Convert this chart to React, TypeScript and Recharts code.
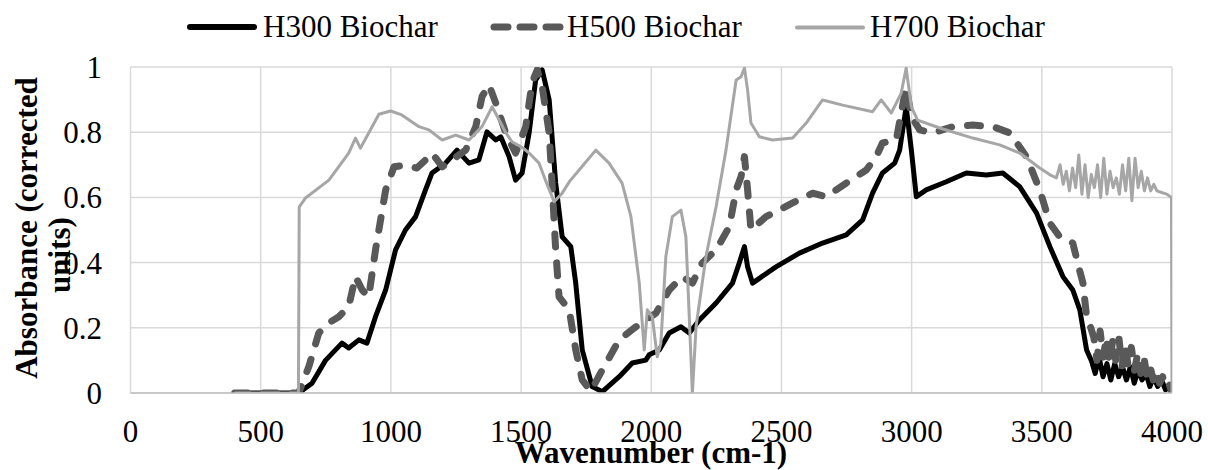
import { LineChart, Line, XAxis, YAxis, CartesianGrid, Legend, Label } from 'recharts';

const FONT = '"Liberation Serif", "Times New Roman", serif';

const xTicks = [0, 500, 1000, 1500, 2000, 2500, 3000, 3500, 4000];
const yTicks = [0, 0.2, 0.4, 0.6, 0.8, 1];
const seriesNames = ['H300 Biochar', 'H500 Biochar', 'H700 Biochar'];

// H300 Biochar
const h300Wn = [
    400, 646, 697, 749, 812, 838, 877, 908, 941, 980, 1018, 1056, 1095, 1133, 1158, 1210, 1254, 1300, 1338, 1369,
    1403, 1422, 1454, 1479, 1504, 1531, 1556, 1581, 1608, 1633, 1658, 1691, 1710, 1735, 1773, 1812, 1877, 1927, 1979, 1992,
    2031, 2069, 2114, 2146, 2185, 2249, 2312, 2338, 2358, 2370, 2389, 2479, 2569, 2658, 2749, 2812, 2850, 2888, 2935, 2954,
    2979, 2999, 3018, 3056, 3133, 3210, 3287, 3350, 3415, 3480, 3531, 3581, 3619, 3646, 3672, 3690,
    3705, 3720, 3735, 3750, 3765, 3780, 3795, 3810, 3825, 3840, 3855, 3870, 3885, 3900, 3915, 3930, 3945, 3960, 3975, 3990,
    4000
];
const h300Abs = [
    0, 0, 0.03, 0.10, 0.153, 0.138, 0.163, 0.153, 0.234, 0.316, 0.439, 0.50, 0.541, 0.623, 0.675, 0.705, 0.745, 0.705, 0.715, 0.801,
    0.776, 0.786, 0.725, 0.653, 0.675, 0.798, 0.960, 0.991, 0.899, 0.644, 0.479, 0.449, 0.337, 0.132, 0.02, 0.004, 0.05, 0.092, 0.101, 0.117,
    0.132, 0.184, 0.203, 0.184, 0.224, 0.276, 0.337, 0.399, 0.449, 0.387, 0.337, 0.387, 0.429, 0.460, 0.485, 0.531, 0.613, 0.675, 0.705, 0.745,
    0.878, 0.745, 0.602, 0.623, 0.648, 0.675, 0.669, 0.675, 0.633, 0.552, 0.449, 0.357, 0.316, 0.255, 0.132, 0.10,
    0.06, 0.11, 0.05, 0.09, 0.04, 0.09, 0.05, 0.08, 0.04, 0.08, 0.03, 0.07, 0.04, 0.06, 0.02, 0.05, 0.02, 0.04, 0.01, 0.02,
    0
];

// H500 Biochar
const h500Wn = [
    400, 646, 685, 723, 762, 800, 838, 864, 890, 915, 941, 980, 1012, 1056, 1100, 1133, 1158, 1197, 1235, 1287,
    1326, 1350, 1377, 1403, 1441, 1479, 1518, 1542, 1562, 1581, 1608, 1619, 1633, 1646, 1685, 1710, 1735, 1768, 1812, 1877,
    1941, 2018, 2069, 2119, 2158, 2196, 2249, 2300, 2326, 2345, 2358, 2370, 2383, 2441, 2543, 2620, 2672, 2749, 2826, 2864,
    2888, 2941, 2960, 2979, 2999, 3031, 3081, 3158, 3235, 3312, 3377, 3441, 3492, 3531, 3569, 3619, 3638, 3658, 3672, 3688,
    3700, 3712, 3724, 3736, 3748, 3760, 3772, 3784, 3796, 3808, 3820, 3832, 3844, 3856, 3868, 3880, 3892, 3904, 3916, 3928,
    3940, 3952, 3964, 3976, 3988, 4000
];
const h500Abs = [
    0, 0, 0.081, 0.184, 0.215, 0.234, 0.265, 0.357, 0.316, 0.295, 0.439, 0.623, 0.694, 0.699, 0.690, 0.715, 0.736, 0.694, 0.715, 0.745,
    0.817, 0.909, 0.945, 0.889, 0.798, 0.736, 0.817, 0.951, 0.991, 0.940, 0.798, 0.644, 0.439, 0.295, 0.255, 0.132, 0.04, 0.006, 0.071, 0.163,
    0.203, 0.245, 0.316, 0.357, 0.337, 0.399, 0.439, 0.510, 0.623, 0.664, 0.725, 0.623, 0.50, 0.541, 0.583, 0.613, 0.602, 0.644, 0.684, 0.725,
    0.767, 0.776, 0.859, 0.940, 0.848, 0.807, 0.798, 0.817, 0.822, 0.817, 0.798, 0.725, 0.623, 0.521, 0.479, 0.460, 0.399, 0.337, 0.234, 0.20,
    0.17, 0.10, 0.19, 0.11, 0.17, 0.09, 0.16, 0.10, 0.17, 0.08, 0.15, 0.08, 0.14, 0.07, 0.12, 0.06, 0.11, 0.05, 0.08, 0.04,
    0.07, 0.03, 0.05, 0.02, 0.03, 0
];

// H700 Biochar
const h700Wn = [
    400, 645, 648, 672, 762, 838, 864, 883, 954, 999, 1042, 1108, 1146, 1197, 1249, 1300, 1350, 1389, 1422, 1440,
    1466, 1490, 1510, 1531, 1569, 1600, 1627, 1658, 1687, 1723, 1787, 1838, 1888, 1922, 1954, 1973, 1985, 2004, 2023, 2037,
    2056, 2081, 2114, 2133, 2146, 2158, 2172, 2210, 2249, 2287, 2326, 2345, 2358, 2370, 2383, 2415, 2466, 2543, 2595, 2658,
    2735, 2850, 2883, 2922, 2960, 2979, 2999, 3023, 3108, 3235, 3338, 3415, 3492, 3530,
    3556, 3570, 3582, 3594, 3606, 3618, 3630, 3642, 3654, 3666, 3678, 3690, 3702, 3714, 3726, 3738, 3750, 3762, 3774, 3786,
    3798, 3810, 3822, 3834, 3846, 3858, 3870, 3882, 3894, 3906, 3918, 3930, 3942, 3960, 3980, 3998, 4000
];
const h700Abs = [
    0, 0, 0.571, 0.598, 0.653, 0.736, 0.782, 0.751, 0.855, 0.865, 0.853, 0.817, 0.807, 0.776, 0.791, 0.776, 0.817, 0.878, 0.828, 0.80,
    0.77, 0.76, 0.75, 0.736, 0.705, 0.64, 0.587, 0.613, 0.65, 0.684, 0.745, 0.705, 0.644, 0.541, 0.337, 0.132, 0.255, 0.234, 0.111, 0.153,
    0.418, 0.541, 0.561, 0.479, 0.234, 0.0, 0.203, 0.418, 0.571, 0.745, 0.960, 0.970, 0.997, 0.929, 0.828, 0.786, 0.776, 0.782, 0.828, 0.899,
    0.883, 0.863, 0.899, 0.859, 0.920, 0.997, 0.878, 0.837, 0.813, 0.782, 0.761, 0.736, 0.690, 0.67,
    0.66, 0.70, 0.64, 0.68, 0.62, 0.69, 0.63, 0.73, 0.61, 0.70, 0.60, 0.67, 0.63, 0.70, 0.60, 0.72, 0.61, 0.68, 0.63, 0.66,
    0.61, 0.70, 0.62, 0.72, 0.59, 0.72, 0.63, 0.68, 0.62, 0.66, 0.62, 0.64, 0.62, 0.615, 0.61, 0.60, 0
];

const toPoints = (wn: number[], abs: number[]) => wn.map((x, i) => ({ x, y: abs[i] }));

const h300Data = toPoints(h300Wn, h300Abs);
const h500Data = toPoints(h500Wn, h500Abs);
const h700Data = toPoints(h700Wn, h700Abs);

const COLORS = {
    h300: '#000000',
    h500: '#595959',
    h700: '#A6A6A6'
};

function LegendBox() {
    const textStyle = { fontFamily: FONT, fontSize: 31, fill: '#000' };
    return (
        <svg width={1208} height={55} style={{ display: 'block' }}>
            <line x1={190} y1={27} x2={254} y2={27} stroke={COLORS.h300} strokeWidth={6} strokeLinecap="round" />
            <text x={263} y={37} style={textStyle}>{seriesNames[0]}</text>
            <line x1={494} y1={27} x2={560} y2={27} stroke={COLORS.h500} strokeWidth={7} strokeLinecap="round" strokeDasharray="14 12" />
            <text x={567} y={37} style={textStyle}>{seriesNames[1]}</text>
            <line x1={797} y1={27.5} x2={863} y2={27.5} stroke={COLORS.h700} strokeWidth={4} strokeLinecap="round" />
            <text x={870} y={37} style={textStyle}>{seriesNames[2]}</text>
        </svg>
    );
}

export default function App() {
    return (
        <div style={{ position: 'absolute', left: 0, top: 0, background: '#fff' }}>
            <LineChart width={1208} height={470} margin={{ top: 67, right: 36, left: 0, bottom: 37 }}>
                <CartesianGrid stroke="#D9D9D9" strokeWidth={1.5} />
                <XAxis
                    type="number"
                    dataKey="x"
                    domain={[0, 4000]}
                    ticks={xTicks}
                    allowDataOverflow
                    height={40}
                    tickLine={false}
                    tickSize={0}
                    tickMargin={27}
                    axisLine={{ stroke: '#BFBFBF', strokeWidth: 1.5 }}
                    tick={{ fontFamily: FONT, fontSize: 31, fill: '#000' }}
                >
                    <Label
                        content={() => (
                            <text x={651} y={463} textAnchor="middle" style={{ fontFamily: FONT, fontSize: 31, fontWeight: 'bold', fill: '#000' }}>
                                Wavenumber (cm-1)
                            </text>
                        )}
                    />
                </XAxis>
                <YAxis
                    type="number"
                    domain={[0, 1]}
                    ticks={yTicks}
                    allowDataOverflow
                    width={130.5}
                    axisLine={false}
                    tickLine={false}
                    tickSize={0}
                    tickMargin={28.5}
                    tick={{ fontFamily: FONT, fontSize: 31, fill: '#000' }}
                >
                    <Label
                        content={() => (
                            <g style={{ fontFamily: FONT, fontSize: 31, fontWeight: 'bold', fill: '#000' }}>
                                <text x={37} y={228} textAnchor="middle" transform="rotate(-90 37 228)">Absorbance (corrected</text>
                                <text x={70} y={255} textAnchor="middle" transform="rotate(-90 70 255)">units)</text>
                            </g>
                        )}
                    />
                </YAxis>
                <Legend
                    layout="horizontal"
                    verticalAlign="middle"
                    wrapperStyle={{ top: 0, left: 0, width: 1208, height: 55 }}
                    content={() => <LegendBox />}
                />
                <Line
                    data={h300Data}
                    dataKey="y"
                    name={seriesNames[0]}
                    type="linear"
                    stroke={COLORS.h300}
                    strokeWidth={5}
                    strokeLinejoin="round"
                    dot={false}
                    activeDot={false}
                    isAnimationActive={false}
                />
                <Line
                    data={h500Data}
                    dataKey="y"
                    name={seriesNames[1]}
                    type="linear"
                    stroke={COLORS.h500}
                    strokeWidth={7}
                    strokeDasharray="13 16"
                    strokeLinecap="round"
                    strokeLinejoin="round"
                    dot={false}
                    activeDot={false}
                    isAnimationActive={false}
                />
                <Line
                    data={h700Data}
                    dataKey="y"
                    name={seriesNames[2]}
                    type="linear"
                    stroke={COLORS.h700}
                    strokeWidth={3}
                    strokeLinejoin="round"
                    dot={false}
                    activeDot={false}
                    isAnimationActive={false}
                />
            </LineChart>
        </div>
    );
}
